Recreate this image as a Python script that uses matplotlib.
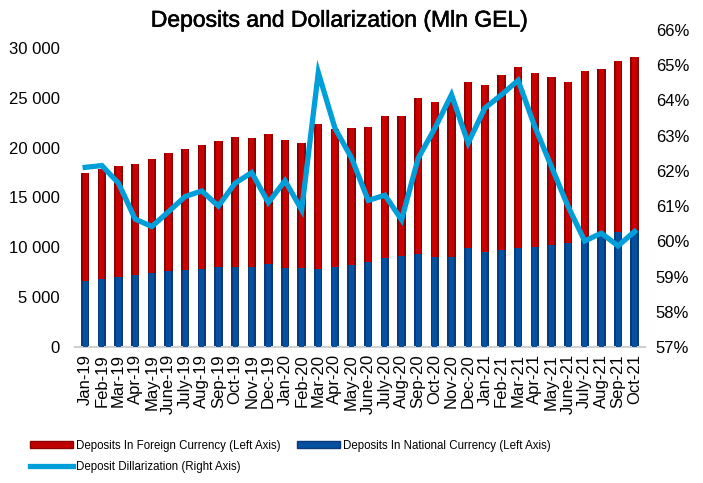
#!/usr/bin/env python3

import numpy as np
import matplotlib
matplotlib.use("Agg")
import matplotlib.pyplot as plt
import matplotlib.patheffects as pe
from matplotlib.patches import Patch
from matplotlib.lines import Line2D

months = ["Jan-19", "Feb-19", "Mar-19", "Apr-19", "May-19", "June-19", "July-19", "Aug-19",
          "Sep-19", "Oct-19", "Nov-19", "Dec-19", "Jan-20", "Feb-20", "Mar-20", "Apr-20",
          "May-20", "June-20", "July-20", "Aug-20", "Sep-20", "Oct-20", "Nov-20", "Dec-20",
          "Jan-21", "Feb-21", "Mar-21", "Apr-21", "May-21", "June-21", "July-21", "Aug-21",
          "Sep-21", "Oct-21"]

# total deposits (bar tops) and national currency part, mln GEL
total = [17480, 17900, 18190, 18320, 18890, 19490, 19830, 20230,
         20700, 21030, 20960, 21360, 20730, 20430, 22370, 21900,
         22000, 22040, 23200, 23170, 25010, 24610, 24900, 26550,
         26280, 27280, 28120, 27450, 27050, 26610, 27650, 27920,
         28720, 29120]
national = [6620, 6790, 6990, 7190, 7460, 7590, 7690, 7820,
            8020, 8020, 7990, 8290, 7890, 7950, 7860, 7990,
            8260, 8530, 8960, 9100, 9360, 9030, 9000, 9900,
            9500, 9760, 9930, 10030, 10230, 10400, 10600, 11100,
            11500, 11590]
# dollarization, %
dollar = [62.10, 62.15, 61.65, 60.63, 60.42, 60.84, 61.27, 61.43,
          61.00, 61.65, 61.95, 61.10, 61.72, 60.89, 64.79, 63.21,
          62.36, 61.16, 61.31, 60.61, 62.36, 63.21, 64.16, 62.79,
          63.78, 64.16, 64.57, 63.26, 62.12, 60.99, 60.01, 60.23,
          59.87, 60.28]

plt.rcParams['font.family'] = ['Liberation Sans', 'DejaVu Sans']

total = np.array(total)
national = np.array(national)
foreign = total - national
x = np.arange(len(months))

fig = plt.figure(figsize=(7.03, 4.83), dpi=100)
ax = fig.add_axes([0.107, 0.2816, 0.81, 0.6564])

w = 0.5
# red bars with a lighter core to fake the cylinder look
ax.bar(x, foreign, w, bottom=national, color='#8E0000', zorder=2)
ax.bar(x, foreign, w * 0.6, bottom=national, color='#C80000', zorder=3)
ax.bar(x, national, w, color='#0A3A7A', zorder=2)
ax.bar(x, national, w * 0.6, color='#0650A0', zorder=3)

ax.set_xlim(-0.6, len(months) - 0.4)
ax.set_ylim(0, 31800)
ax.set_yticks(np.arange(0, 30001, 5000))
ax.set_yticklabels(["{:,}".format(v).replace(",", " ") for v in range(0, 30001, 5000)])
ax.set_xticks(x)
ax.set_xticklabels(months, rotation=90, fontsize=12)
ax.tick_params(axis='y', labelsize=12, length=0, pad=11)
ax.tick_params(axis='x', length=0, pad=5)
for s in ['top', 'right', 'left']:
  ax.spines[s].set_visible(False)
ax.spines['bottom'].set_color('#D0D0D0')
ax.spines['bottom'].set_linewidth(1.5)

ax2 = ax.twinx()
ax2.plot(x, dollar, color='#009FDA', lw=3.8, solid_joinstyle='miter', zorder=5)
ax2.set_ylim(57, 66)
ax2.set_yticks(np.arange(57, 67, 1))
ax2.set_yticklabels(["{}%".format(v) for v in range(57, 67)])
ax2.tick_params(axis='y', labelsize=12, length=0, pad=8)
for s in ax2.spines.values():
  s.set_visible(False)

# title is a bit heavier than regular in the original
fig.suptitle("Deposits and Dollarization (Mln GEL)", x=0.482, y=0.982, fontsize=16.5,
             path_effects=[pe.withStroke(linewidth=0.4, foreground='black')])

handles = [Patch(facecolor='#C00000', edgecolor='#8E0000'),
           Line2D([0], [0], color='#009FDA', lw=3.8),
           Patch(facecolor='#0650A0', edgecolor='#0A3A7A')]
labels = ["Deposits In Foreign Currency (Left Axis)",
          "Deposit Dillarization (Right Axis)",
          "Deposits In National Currency (Left Axis)"]
fig.legend(handles, labels, ncol=2, loc='upper left', bbox_to_anchor=(0.028, 0.111),
           frameon=False, fontsize=8.3, handlelength=3.7, handleheight=0.5,
           handletextpad=0.25, columnspacing=1.5, labelspacing=0.8)

fig.savefig("out.png", dpi=100)
